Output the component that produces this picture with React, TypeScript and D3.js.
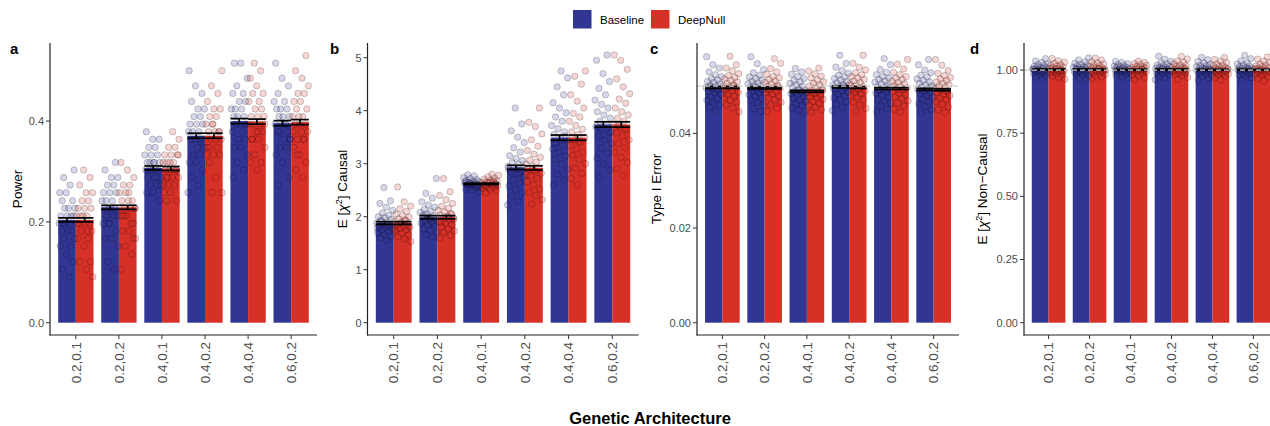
import React from 'react';
import * as d3 from 'd3';

// genetic architecture categories along the x axis
const architectures = ['0.2,0.1', '0.2,0.2', '0.4,0.1', '0.4,0.2', '0.4,0.4', '0.6,0.2'];
const seriesNames = ['Baseline', 'DeepNull'];
const seriesColors = ['#313695', '#D73027'];

// a: power
const powerMean = [
  [0.204, 0.229, 0.307, 0.371, 0.400, 0.396],
  [0.204, 0.229, 0.306, 0.371, 0.399, 0.398],
];
const powerErr = [0.004, 0.004, 0.004, 0.005, 0.005, 0.005];
const powerPointsBaseline = [
  [0.091, 0.106, 0.121, 0.136, 0.152, 0.152, 0.167, 0.167, 0.182, 0.182, 0.182, 0.197, 0.197, 0.197, 0.197, 0.212, 0.212, 0.212, 0.212, 0.227, 0.227, 0.227, 0.242, 0.242, 0.258, 0.258, 0.273, 0.288, 0.303],
  [0.106, 0.121, 0.152, 0.167, 0.167, 0.182, 0.197, 0.197, 0.212, 0.212, 0.212, 0.227, 0.227, 0.227, 0.227, 0.242, 0.242, 0.242, 0.258, 0.258, 0.258, 0.273, 0.273, 0.288, 0.288, 0.303, 0.318, 0.197],
  [0.242, 0.258, 0.258, 0.273, 0.273, 0.288, 0.288, 0.288, 0.303, 0.303, 0.303, 0.303, 0.318, 0.318, 0.318, 0.318, 0.333, 0.333, 0.333, 0.348, 0.348, 0.364, 0.364, 0.379, 0.288, 0.303, 0.273, 0.318],
  [0.258, 0.273, 0.288, 0.303, 0.318, 0.318, 0.333, 0.333, 0.348, 0.348, 0.364, 0.364, 0.364, 0.379, 0.379, 0.379, 0.394, 0.394, 0.394, 0.409, 0.409, 0.424, 0.424, 0.439, 0.455, 0.470, 0.500, 0.364],
  [0.288, 0.303, 0.318, 0.333, 0.348, 0.348, 0.364, 0.364, 0.379, 0.379, 0.394, 0.394, 0.394, 0.409, 0.409, 0.409, 0.424, 0.424, 0.424, 0.439, 0.439, 0.455, 0.455, 0.470, 0.485, 0.515, 0.515, 0.394],
  [0.273, 0.288, 0.318, 0.333, 0.348, 0.348, 0.364, 0.364, 0.379, 0.379, 0.394, 0.394, 0.394, 0.409, 0.409, 0.409, 0.424, 0.424, 0.424, 0.439, 0.439, 0.455, 0.470, 0.485, 0.515, 0.394, 0.379, 0.364],
];
const powerPointsDeepNull = [
  [0.091, 0.106, 0.121, 0.121, 0.152, 0.167, 0.167, 0.182, 0.182, 0.197, 0.197, 0.197, 0.212, 0.212, 0.212, 0.212, 0.227, 0.227, 0.227, 0.242, 0.242, 0.258, 0.258, 0.273, 0.288, 0.303, 0.197, 0.182],
  [0.106, 0.136, 0.152, 0.167, 0.182, 0.182, 0.197, 0.212, 0.212, 0.227, 0.227, 0.227, 0.242, 0.242, 0.242, 0.258, 0.258, 0.273, 0.273, 0.288, 0.303, 0.318, 0.197, 0.212, 0.227, 0.258, 0.212, 0.167],
  [0.242, 0.242, 0.258, 0.258, 0.273, 0.273, 0.288, 0.288, 0.303, 0.303, 0.303, 0.318, 0.318, 0.318, 0.333, 0.333, 0.333, 0.348, 0.348, 0.364, 0.379, 0.288, 0.303, 0.318, 0.273, 0.303, 0.288, 0.333],
  [0.258, 0.258, 0.288, 0.318, 0.333, 0.333, 0.348, 0.348, 0.364, 0.364, 0.379, 0.379, 0.379, 0.394, 0.394, 0.409, 0.409, 0.424, 0.424, 0.439, 0.455, 0.470, 0.500, 0.364, 0.348, 0.379, 0.394, 0.333],
  [0.303, 0.318, 0.318, 0.333, 0.348, 0.364, 0.364, 0.379, 0.379, 0.394, 0.394, 0.394, 0.409, 0.409, 0.409, 0.424, 0.424, 0.439, 0.439, 0.455, 0.455, 0.470, 0.485, 0.500, 0.515, 0.394, 0.379, 0.364],
  [0.288, 0.303, 0.318, 0.333, 0.348, 0.364, 0.364, 0.379, 0.379, 0.394, 0.394, 0.409, 0.409, 0.409, 0.424, 0.424, 0.439, 0.439, 0.455, 0.455, 0.470, 0.485, 0.500, 0.530, 0.394, 0.379, 0.364, 0.333],
];

// b: mean chi-square at causal variants
const causalMean = [
  [1.88, 1.99, 2.62, 2.93, 3.49, 3.74],
  [1.88, 1.99, 2.62, 2.92, 3.49, 3.74],
];
const causalErr = [0.025, 0.03, 0.012, 0.04, 0.05, 0.05];
const causalPointsBaseline = [
  [1.55, 1.6, 1.63, 1.66, 1.7, 1.72, 1.75, 1.77, 1.8, 1.82, 1.84, 1.86, 1.88, 1.9, 1.92, 1.95, 1.98, 2.0, 2.03, 2.07, 2.12, 2.18, 2.25, 2.3, 2.55, 1.78, 1.85, 1.93],
  [1.62, 1.66, 1.7, 1.74, 1.78, 1.82, 1.85, 1.88, 1.9, 1.93, 1.95, 1.98, 2.0, 2.02, 2.05, 2.08, 2.1, 2.14, 2.18, 2.22, 2.28, 2.35, 2.44, 2.72, 1.96, 2.03, 1.87, 1.99],
  [2.46, 2.5, 2.52, 2.54, 2.56, 2.58, 2.59, 2.6, 2.61, 2.62, 2.63, 2.64, 2.65, 2.66, 2.67, 2.68, 2.7, 2.72, 2.74, 2.77, 2.79, 2.57, 2.62, 2.66, 2.6, 2.64],
  [2.22, 2.3, 2.38, 2.45, 2.52, 2.58, 2.64, 2.7, 2.75, 2.8, 2.85, 2.88, 2.92, 2.95, 2.98, 3.02, 3.06, 3.1, 3.15, 3.22, 3.3, 3.4, 3.5, 3.62, 3.75, 4.05, 2.9, 2.83],
  [2.6, 2.7, 2.8, 2.9, 3.0, 3.08, 3.15, 3.22, 3.28, 3.34, 3.4, 3.45, 3.5, 3.55, 3.6, 3.66, 3.72, 3.8, 3.88, 3.96, 4.05, 4.15, 4.3, 4.45, 4.62, 4.75, 3.38, 3.52],
  [2.75, 2.88, 3.0, 3.1, 3.2, 3.3, 3.38, 3.45, 3.52, 3.58, 3.64, 3.7, 3.75, 3.8, 3.86, 3.92, 3.98, 4.05, 4.12, 4.2, 4.3, 4.42, 4.55, 4.7, 4.95, 5.05, 3.68, 3.6],
];
const causalPointsDeepNull = [
  [1.53, 1.58, 1.62, 1.66, 1.69, 1.72, 1.75, 1.78, 1.8, 1.83, 1.85, 1.87, 1.89, 1.91, 1.94, 1.96, 1.99, 2.02, 2.05, 2.1, 2.15, 2.2, 2.28, 2.56, 1.82, 1.88, 1.76, 1.93],
  [1.6, 1.65, 1.7, 1.73, 1.77, 1.81, 1.85, 1.88, 1.91, 1.94, 1.96, 1.98, 2.0, 2.03, 2.06, 2.09, 2.12, 2.16, 2.2, 2.25, 2.32, 2.4, 2.47, 2.72, 1.95, 2.01, 1.9, 2.05],
  [2.45, 2.49, 2.52, 2.54, 2.56, 2.57, 2.59, 2.6, 2.61, 2.62, 2.63, 2.64, 2.65, 2.66, 2.68, 2.69, 2.71, 2.73, 2.75, 2.78, 2.8, 2.58, 2.62, 2.65, 2.6, 2.67],
  [2.24, 2.32, 2.4, 2.46, 2.52, 2.6, 2.66, 2.72, 2.77, 2.82, 2.86, 2.89, 2.92, 2.95, 2.99, 3.03, 3.07, 3.12, 3.18, 3.25, 3.33, 3.45, 3.56, 3.7, 3.78, 4.05, 2.88, 2.8],
  [2.6, 2.72, 2.82, 2.92, 3.0, 3.08, 3.16, 3.22, 3.28, 3.34, 3.4, 3.45, 3.5, 3.55, 3.6, 3.65, 3.72, 3.8, 3.88, 3.95, 4.05, 4.18, 4.3, 4.5, 4.65, 4.75, 3.42, 3.48],
  [2.77, 2.9, 3.02, 3.12, 3.22, 3.3, 3.38, 3.45, 3.52, 3.58, 3.64, 3.7, 3.75, 3.8, 3.86, 3.92, 3.98, 4.05, 4.14, 4.22, 4.32, 4.45, 4.6, 4.78, 4.95, 5.05, 3.66, 3.72],
];

// c: type I error
const typeIMean = [
  [0.0497, 0.0496, 0.0489, 0.0498, 0.0495, 0.0493],
  [0.0497, 0.0496, 0.0489, 0.0497, 0.0495, 0.0492],
];
const typeIErr = [0.0002, 0.0002, 0.0002, 0.0002, 0.0002, 0.0002];
const typeIPointsBaseline = [
  [0.0447, 0.0455, 0.046, 0.0465, 0.047, 0.0474, 0.0478, 0.0482, 0.0486, 0.0489, 0.0492, 0.0495, 0.0497, 0.05, 0.0502, 0.0505, 0.0508, 0.051, 0.0513, 0.0516, 0.052, 0.0524, 0.053, 0.0538, 0.0545, 0.0562, 0.0494, 0.0499],
  [0.0446, 0.0452, 0.0459, 0.0465, 0.047, 0.0474, 0.0478, 0.0482, 0.0486, 0.0489, 0.0492, 0.0494, 0.0497, 0.0499, 0.0502, 0.0505, 0.0507, 0.051, 0.0513, 0.0516, 0.0519, 0.0523, 0.0528, 0.0535, 0.0547, 0.0562, 0.0493, 0.0498],
  [0.0444, 0.0449, 0.0454, 0.0459, 0.0463, 0.0467, 0.0471, 0.0475, 0.0478, 0.0481, 0.0484, 0.0487, 0.0489, 0.0491, 0.0494, 0.0497, 0.05, 0.0503, 0.0506, 0.0509, 0.0512, 0.0516, 0.052, 0.0525, 0.053, 0.0537, 0.0486, 0.0492],
  [0.0448, 0.0455, 0.0461, 0.0466, 0.0471, 0.0475, 0.0479, 0.0483, 0.0487, 0.049, 0.0493, 0.0496, 0.0499, 0.0502, 0.0504, 0.0507, 0.051, 0.0513, 0.0516, 0.0519, 0.0523, 0.0527, 0.0533, 0.054, 0.0548, 0.0565, 0.0495, 0.05],
  [0.0446, 0.0452, 0.0458, 0.0464, 0.0469, 0.0473, 0.0477, 0.0481, 0.0485, 0.0488, 0.0491, 0.0494, 0.0496, 0.0499, 0.0502, 0.0505, 0.0508, 0.0511, 0.0514, 0.0517, 0.052, 0.0524, 0.0529, 0.0535, 0.0545, 0.0558, 0.0492, 0.0497],
  [0.0444, 0.045, 0.0456, 0.0462, 0.0467, 0.0472, 0.0476, 0.048, 0.0484, 0.0487, 0.049, 0.0493, 0.0495, 0.0498, 0.05, 0.0503, 0.0506, 0.0509, 0.0512, 0.0515, 0.0519, 0.0523, 0.0528, 0.0534, 0.0545, 0.0556, 0.0491, 0.0496],
];
const typeIPointsDeepNull = [
  [0.0446, 0.0454, 0.046, 0.0466, 0.047, 0.0475, 0.0479, 0.0483, 0.0487, 0.049, 0.0493, 0.0496, 0.0498, 0.05, 0.0503, 0.0506, 0.0509, 0.0512, 0.0515, 0.0518, 0.0522, 0.0526, 0.0532, 0.0538, 0.0545, 0.0563, 0.0495, 0.0501],
  [0.0447, 0.0453, 0.046, 0.0466, 0.0471, 0.0475, 0.0479, 0.0483, 0.0486, 0.0489, 0.0492, 0.0495, 0.0497, 0.05, 0.0502, 0.0505, 0.0508, 0.0511, 0.0514, 0.0517, 0.052, 0.0525, 0.053, 0.0537, 0.0548, 0.0558, 0.0494, 0.0499],
  [0.0445, 0.045, 0.0455, 0.046, 0.0464, 0.0468, 0.0472, 0.0475, 0.0478, 0.0481, 0.0484, 0.0487, 0.0489, 0.0492, 0.0494, 0.0497, 0.05, 0.0503, 0.0506, 0.0509, 0.0513, 0.0517, 0.0521, 0.0526, 0.0532, 0.0538, 0.0487, 0.0491],
  [0.0446, 0.0453, 0.046, 0.0466, 0.0471, 0.0476, 0.048, 0.0484, 0.0487, 0.049, 0.0493, 0.0496, 0.0499, 0.0502, 0.0505, 0.0508, 0.0511, 0.0514, 0.0517, 0.052, 0.0524, 0.0528, 0.0534, 0.054, 0.0548, 0.0565, 0.0494, 0.0501],
  [0.0445, 0.0451, 0.0458, 0.0464, 0.0469, 0.0474, 0.0478, 0.0482, 0.0485, 0.0488, 0.0491, 0.0494, 0.0496, 0.0499, 0.0502, 0.0505, 0.0508, 0.0511, 0.0514, 0.0517, 0.052, 0.0524, 0.0529, 0.0536, 0.0546, 0.0556, 0.0493, 0.0498],
  [0.0444, 0.045, 0.0456, 0.0462, 0.0467, 0.0472, 0.0476, 0.048, 0.0483, 0.0486, 0.0489, 0.0492, 0.0495, 0.0498, 0.05, 0.0503, 0.0506, 0.0509, 0.0512, 0.0515, 0.0518, 0.0522, 0.0527, 0.0533, 0.0544, 0.0556, 0.049, 0.0495],
];

// d: mean chi-square at non-causal variants
const nonCausalMean = [
  [1.002, 1.002, 1.001, 1.002, 1.001, 1.001],
  [1.002, 1.002, 1.001, 1.002, 1.001, 1.001],
];
const nonCausalErr = [0.002, 0.002, 0.002, 0.002, 0.002, 0.002];
const nonCausalPointsBaseline = [
  [0.965, 0.972, 0.978, 0.983, 0.986, 0.989, 0.992, 0.994, 0.996, 0.998, 1.0, 1.002, 1.004, 1.006, 1.008, 1.01, 1.012, 1.015, 1.018, 1.021, 1.025, 1.03, 1.036, 1.045, 0.999, 1.003],
  [0.963, 0.97, 0.977, 0.982, 0.986, 0.989, 0.992, 0.994, 0.997, 0.999, 1.001, 1.003, 1.005, 1.007, 1.009, 1.011, 1.013, 1.016, 1.019, 1.023, 1.027, 1.032, 1.04, 1.048, 1.0, 1.004],
  [0.968, 0.974, 0.979, 0.983, 0.987, 0.99, 0.992, 0.994, 0.996, 0.998, 1.0, 1.002, 1.003, 1.005, 1.007, 1.009, 1.011, 1.013, 1.015, 1.018, 1.021, 1.025, 1.03, 1.034, 0.999, 1.002],
  [0.962, 0.97, 0.977, 0.982, 0.986, 0.989, 0.992, 0.995, 0.997, 0.999, 1.001, 1.003, 1.005, 1.007, 1.009, 1.011, 1.014, 1.017, 1.02, 1.024, 1.029, 1.035, 1.043, 1.055, 1.0, 1.004],
  [0.96, 0.968, 0.975, 0.981, 0.985, 0.988, 0.991, 0.994, 0.996, 0.998, 1.0, 1.002, 1.004, 1.006, 1.008, 1.01, 1.013, 1.016, 1.019, 1.023, 1.028, 1.034, 1.041, 1.05, 0.999, 1.003],
  [0.962, 0.969, 0.976, 0.981, 0.985, 0.988, 0.991, 0.994, 0.996, 0.998, 1.0, 1.002, 1.004, 1.006, 1.008, 1.01, 1.013, 1.016, 1.02, 1.024, 1.029, 1.036, 1.045, 1.058, 0.999, 1.003],
];
const nonCausalPointsDeepNull = [
  [0.964, 0.971, 0.977, 0.982, 0.986, 0.989, 0.992, 0.994, 0.996, 0.998, 1.0, 1.002, 1.004, 1.006, 1.008, 1.01, 1.013, 1.016, 1.019, 1.022, 1.026, 1.031, 1.037, 1.046, 0.999, 1.003],
  [0.965, 0.972, 0.978, 0.983, 0.987, 0.99, 0.993, 0.995, 0.997, 0.999, 1.001, 1.003, 1.005, 1.007, 1.009, 1.011, 1.014, 1.017, 1.02, 1.024, 1.028, 1.033, 1.04, 1.047, 1.0, 1.004],
  [0.962, 0.97, 0.977, 0.982, 0.986, 0.99, 0.993, 0.995, 0.997, 0.999, 1.0, 1.002, 1.004, 1.005, 1.007, 1.009, 1.011, 1.013, 1.016, 1.019, 1.022, 1.026, 1.03, 1.035, 0.998, 1.002],
  [0.964, 0.971, 0.978, 0.983, 0.987, 0.99, 0.993, 0.995, 0.997, 0.999, 1.001, 1.003, 1.005, 1.007, 1.01, 1.012, 1.015, 1.018, 1.021, 1.025, 1.03, 1.036, 1.044, 1.054, 1.0, 1.004],
  [0.961, 0.969, 0.976, 0.981, 0.985, 0.988, 0.991, 0.994, 0.996, 0.998, 1.0, 1.002, 1.004, 1.006, 1.008, 1.011, 1.014, 1.017, 1.02, 1.024, 1.029, 1.035, 1.042, 1.05, 0.999, 1.003],
  [0.958, 0.966, 0.974, 0.98, 0.984, 0.988, 0.991, 0.994, 0.996, 0.998, 1.0, 1.002, 1.004, 1.006, 1.008, 1.01, 1.013, 1.016, 1.02, 1.024, 1.029, 1.035, 1.043, 1.052, 0.999, 1.003],
];

const FONT = '"Liberation Sans", Arial, Helvetica, sans-serif';
const TOP = 43;
const BOTTOM = 335;

const panels = [
  {
    letter: 'a', letterX: 10, title: ['Power'], xRange: [50, 317], yDomain: [-0.0244, 0.555],
    ticks: [0, 0.2, 0.4], fmt: d3.format('.1f'), titleX: 21.5,
    mean: powerMean, err: powerErr, points: [powerPointsBaseline, powerPointsDeepNull], ref: null,
  },
  {
    letter: 'b', letterX: 330, title: ['E [', 'χ', '2', '] Causal'], xRange: [367.5, 638.5], yDomain: [-0.232, 5.277],
    ticks: [0, 1, 2, 3, 4, 5], fmt: d3.format('d'), titleX: 347,
    mean: causalMean, err: causalErr, points: [causalPointsBaseline, causalPointsDeepNull], ref: null,
  },
  {
    letter: 'c', letterX: 650, title: ['Type I Error'], xRange: [697, 959], yDomain: [-0.0026, 0.0591],
    ticks: [0, 0.02, 0.04], fmt: d3.format('.2f'), titleX: 661,
    mean: typeIMean, err: typeIErr, points: [typeIPointsBaseline, typeIPointsDeepNull], ref: 0.05,
  },
  {
    letter: 'd', letterX: 970, title: ['E [', 'χ', '2', '] Non\u2212Causal'], xRange: [1024, 1278], yDomain: [-0.0487, 1.107],
    ticks: [0, 0.25, 0.5, 0.75, 1], fmt: d3.format('.2f'), titleX: 987,
    mean: nonCausalMean, err: nonCausalErr, points: [nonCausalPointsBaseline, nonCausalPointsDeepNull], ref: 1,
  },
];

const frac = (v: number) => v - Math.floor(v);

function Panel({ p }: { p: typeof panels[number] }) {
  const x = d3.scalePoint().domain(architectures).range(p.xRange as [number, number]).padding(0.6);
  const y = d3.scaleLinear().domain(p.yDomain).range([BOTTOM, TOP]);
  const groupW = x.step() * 0.82;
  const sub = d3.scaleBand().domain(seriesNames).range([-groupW / 2, groupW / 2]);
  const barW = sub.bandwidth();
  const y0 = y(0);
  const axisX = p.xRange[0];
  const midY = (TOP + BOTTOM) / 2;

  return (
    <g>
      <text x={p.letterX} y={54} fontSize={15} fontWeight="bold" fill="#000">
        {p.letter}
      </text>

      {/* bars */}
      {seriesNames.map((s, si) =>
        architectures.map((a, gi) => {
          const v = p.mean[si][gi];
          return (
            <rect key={s + a} x={(x(a) as number) + (sub(s) as number)} y={y(v)}
              width={barW} height={y0 - y(v)} fill={seriesColors[si]} />
          );
        })
      )}

      {/* jittered replicate points */}
      {seriesNames.map((s, si) =>
        architectures.map((a, gi) => {
          const cx0 = (x(a) as number) + (sub(s) as number) + barW / 2;
          return p.points[si][gi].map((v, i) => {
            const u = frac((i + 1) * 0.6180339887 + si * 0.37 + gi * 0.13);
            return (
              <circle key={`${s}${a}${i}`} cx={cx0 + (u - 0.5) * barW * 0.95} cy={y(v)} r={3.2}
                fill={seriesColors[si]} fillOpacity={0.2} stroke="#000" strokeOpacity={0.25} strokeWidth={0.8} />
            );
          });
        })
      )}

      {/* error bars */}
      {seriesNames.map((s, si) =>
        architectures.map((a, gi) => {
          const v = p.mean[si][gi];
          const e = p.err[gi];
          const xl = (x(a) as number) + (sub(s) as number);
          const xc = xl + barW / 2;
          return (
            <g key={'e' + s + a} stroke="#000" strokeWidth={1.7}>
              <line x1={xl} x2={xl + barW} y1={y(v + e)} y2={y(v + e)} />
              <line x1={xl} x2={xl + barW} y1={y(v - e)} y2={y(v - e)} />
              <line x1={xc} x2={xc} y1={y(v + e)} y2={y(v - e)} />
            </g>
          );
        })
      )}

      {p.ref !== null && (
        <line x1={axisX} x2={p.xRange[1]} y1={y(p.ref)} y2={y(p.ref)}
          stroke="#cfcfcf" strokeWidth={1.3} strokeDasharray="5,3" />
      )}

      {/* axes */}
      <line x1={axisX} x2={axisX} y1={TOP} y2={BOTTOM + 0.5} stroke="#222" strokeWidth={1.2} />
      <line x1={axisX - 0.5} x2={p.xRange[1]} y1={BOTTOM} y2={BOTTOM} stroke="#222" strokeWidth={1.2} />
      {p.ticks.map((t) => (
        <g key={t}>
          <line x1={axisX - 4} x2={axisX} y1={y(t)} y2={y(t)} stroke="#333" strokeWidth={1} />
          <text x={axisX - 6} y={y(t)} dy="0.35em" textAnchor="end" fontSize={11} fill="#4d4d4d">
            {p.fmt(t)}
          </text>
        </g>
      ))}
      {architectures.map((a) => (
        <g key={a}>
          <line x1={x(a)} x2={x(a)} y1={BOTTOM} y2={BOTTOM + 4} stroke="#333" strokeWidth={1} />
          <text transform={`translate(${x(a)},${BOTTOM + 7}) rotate(-90)`} dy="0.35em"
            textAnchor="end" fontSize={13.5} fill="#4d4d4d">
            {a}
          </text>
        </g>
      ))}

      {/* y title */}
      <text transform={`translate(${p.titleX},${midY}) rotate(-90)`} textAnchor="middle" fontSize={13.5} fill="#000">
        {p.title.length === 1 ? p.title[0] : (
          <>
            <tspan>{p.title[0]}</tspan>
            <tspan fontStyle="italic">{p.title[1]}</tspan>
            <tspan dy={-5} fontSize={9}>{p.title[2]}</tspan>
            <tspan dy={5}>{p.title[3]}</tspan>
          </>
        )}
      </text>
    </g>
  );
}

export default function App() {
  return (
    <svg width={1270} height={426} style={{ position: 'absolute', left: 0, top: 0, background: '#fff' }}
      fontFamily={FONT}>
      {/* legend */}
      {seriesNames.map((s, i) => {
        const lx = [573, 651][i];
        return (
          <g key={s}>
            <rect x={lx} y={10} width={18.5} height={18.5} fill={seriesColors[i]} />
            <text x={lx + 27} y={19.5} dy="0.35em" fontSize={11.5} fill="#000">{s}</text>
          </g>
        );
      })}
      {panels.map((p) => <Panel key={p.letter} p={p} />)}
      <text x={650} y={424} textAnchor="middle" fontSize={16.5} fontWeight="bold" fill="#000">
        Genetic Architecture
      </text>
    </svg>
  );
}
